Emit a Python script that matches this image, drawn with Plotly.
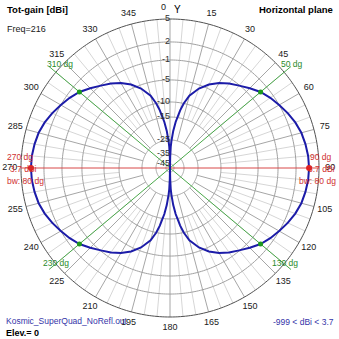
import numpy as np
import plotly.graph_objects as go

# Radiation pattern, horizontal plane (compass angle in degrees, total gain in dBi)
angles = [0, 1, 2, 3, 5, 7, 10, 12, 15, 20, 25, 30, 35, 40, 45, 50, 55, 60, 65, 70, 75, 80, 85,
          90, 95, 100, 105, 110, 115, 120, 125, 130, 135, 140, 145, 150, 155, 160, 165, 168, 170,
          173, 175, 177, 178, 179, 180, 181, 182, 183, 185, 187, 190, 192, 195, 200, 205, 210,
          215, 220, 225, 230, 235, 240, 245, 250, 255, 260, 265, 270, 275, 280, 285, 290, 295,
          300, 305, 310, 315, 320, 325, 330, 335, 340, 345, 348, 350, 353, 355, 357, 358, 359, 360]
gain_dbi = [-999, -38, -30, -26, -21, -17, -12.5, -10, -8, -5.8, -4.2, -3.0, -2.0, -1.1, -0.2,
            0.7, 1.4, 2.0, 2.5, 2.95, 3.3, 3.5, 3.65,
            3.7, 3.65, 3.5, 3.3, 2.95, 2.5, 2.0, 1.4, 0.7, -0.2, -1.1, -2.0, -3.0, -4.2, -5.8,
            -8, -10, -12.5, -17, -21, -26, -30, -38, -999, -38, -30, -26, -21, -17, -12.5, -10,
            -8, -5.8, -4.2, -3.0, -2.0, -1.1, -0.2, 0.7, 1.4, 2.0, 2.5, 2.95, 3.3, 3.5, 3.65,
            3.7, 3.65, 3.5, 3.3, 2.95, 2.5, 2.0, 1.4, 0.7, -0.2, -1.1, -2.0, -3.0, -4.2, -5.8,
            -8, -10, -12.5, -17, -21, -26, -30, -38, -999]

# Summary values
max_gain = 3.7
max_dirs = [90, 270]
bw_dirs = [50, 130, 230, 310]
beamwidth = 80

# Gain rings (dBi) and angular tick labels
ring_db = [5, 2, -1, -5, -10, -15, -25, -35, -45]
ring_frac = [1.0, 0.846, 0.725, 0.591, 0.443, 0.342, 0.188, 0.094, 0.027]
angle_ticks = list(range(0, 360, 15))

R_MAX = 1.1  # radial range leaves room for the compass labels outside the outer ring


def to_r(db):
    """Map dBi onto the plot's compressed radial scale (0 = centre, 1 = outer ring)."""
    xs = [-55] + ring_db[::-1]
    ys = [0.0] + ring_frac[::-1]
    return np.interp(np.asarray(db, dtype=float), xs, ys, left=0.0, right=1.0)


def polyline(segments):
    r, t = [], []
    for rs, ts in segments:
        r += list(rs) + [None]
        t += list(ts) + [None]
    return r, t


F = "Liberation Sans"
fig = go.Figure()
circ = np.linspace(0, 360, 361)

# minor spokes every 5 degrees
seg = [([to_r(-15), 1], [a, a]) for a in range(0, 360, 5) if a % 15]
r, t = polyline(seg)
fig.add_trace(go.Scatterpolar(r=r, theta=t, mode="lines",
                              line=dict(color="#d6d6d6", width=1), hoverinfo="skip"))
# major spokes every 15 degrees
seg = [([to_r(-25), 1], [a, a]) for a in angle_ticks if a not in (0, 90, 180, 270)]
seg.append(([1, 0, 1], [0, 0, 180]))
r, t = polyline(seg)
fig.add_trace(go.Scatterpolar(r=r, theta=t, mode="lines",
                              line=dict(color="#a6a6a6", width=1), hoverinfo="skip"))
# gain rings
seg = [([to_r(d)] * len(circ), circ) for d in ring_db[1:]]
r, t = polyline(seg)
fig.add_trace(go.Scatterpolar(r=r, theta=t, mode="lines",
                              line=dict(color="#a0a0a0", width=1), hoverinfo="skip"))
fig.add_trace(go.Scatterpolar(r=[1] * len(circ), theta=circ, mode="lines",
                              line=dict(color="#505050", width=1), hoverinfo="skip"))

# beamwidth (-3 dB) directions, running out to their labels
seg = [([0, 1.06], [a, a]) for a in bw_dirs]
r, t = polyline(seg)
fig.add_trace(go.Scatterpolar(r=r, theta=t, mode="lines",
                              line=dict(color="#4aa84a", width=1), hoverinfo="skip"))
# max-gain direction
fig.add_trace(go.Scatterpolar(r=[1, 0, 1], theta=[90, 0, 270], mode="lines",
                              line=dict(color="#d84848", width=1), hoverinfo="skip"))

# pattern
fig.add_trace(go.Scatterpolar(r=to_r(gain_dbi), theta=angles, mode="lines",
                              line=dict(color="#1c1ca8", width=2), hoverinfo="skip"))

# markers at max gain and at the -3 dB points
fig.add_trace(go.Scatterpolar(r=to_r([max_gain] * 2), theta=max_dirs, mode="markers",
                              marker=dict(color="#e02020", size=6), hoverinfo="skip"))
fig.add_trace(go.Scatterpolar(r=to_r([max_gain - 3] * 4), theta=bw_dirs, mode="markers",
                              marker=dict(color="#1e9a1e", size=5), hoverinfo="skip"))

# ring labels along the 0 degree axis
fig.add_trace(go.Scatterpolar(r=to_r(ring_db), theta=[0] * len(ring_db), mode="text",
                              text=[str(d) for d in ring_db], textposition="middle left",
                              textfont=dict(family=F, size=9, color="#303030"),
                              cliponaxis=False, hoverinfo="skip"))

# compass labels outside the outer ring (0 is placed next to the axis name)
lab = [a for a in angle_ticks if a != 0]
fig.add_trace(go.Scatterpolar(r=[1.075] * len(lab), theta=lab, mode="text",
                              text=[str(a) for a in lab], textposition="middle center",
                              textfont=dict(family=F, size=9, color="#202020"),
                              cliponaxis=False, hoverinfo="skip"))

# polar domain sized so the outer ring (r = 1) has a radius of 149 px about (170, 168)
half = 149 * R_MAX
cx, cy = 170, 168
fig.update_layout(
    width=339, height=339, showlegend=False,
    margin=dict(l=0, r=0, t=0, b=0),
    paper_bgcolor="white",
    polar=dict(
        domain=dict(x=[(cx - half) / 339, (cx + half) / 339],
                    y=[1 - (cy + half) / 339, 1 - (cy - half) / 339]),
        bgcolor="white",
        radialaxis=dict(range=[0, R_MAX], visible=False),
        angularaxis=dict(rotation=90, direction="clockwise", showgrid=False,
                         showline=False, ticks="", showticklabels=False),
    ),
)

RED = "#d03030"
notes = [
    dict(x=5, y=10, text="<b>Tot-gain [dBi]</b>", color="black", size=9.5, xa="left"),
    dict(x=5, y=29, text="Freq=216", color="#202020", size=9, xa="left"),
    dict(x=335, y=10, text="<b>Horizontal plane</b>", color="black", size=9.5, xa="right"),
    dict(x=163, y=7, text="0", color="#202020", size=9, xa="center"),
    dict(x=177, y=9, text="Y", color="black", size=10, xa="center"),
    dict(x=4, y=321, text="Kosmic_SuperQuad_NoRefl.out", color="#3434a8", size=8.5, xa="left"),
    dict(x=4, y=333, text="<b>Elev.= 0</b>", color="black", size=9, xa="left"),
    dict(x=336, y=322, text="-999 &lt; dBi &lt; 3.7", color="#3434a8", size=8.5, xa="right"),
    dict(x=5, y=157, text="270 dg", color=RED, size=8.5, xa="left"),
    dict(x=8, y=169, text=f"{max_gain} dBi", color=RED, size=8.5, xa="left"),
    dict(x=5, y=181, text=f"bw: {beamwidth} dg", color=RED, size=8.5, xa="left"),
    dict(x=308, y=157, text="90 dg", color=RED, size=8.5, xa="left"),
    dict(x=306, y=169, text=f"{max_gain} dBi", color=RED, size=8.5, xa="left"),
    dict(x=338, y=181, text=f"bw: {beamwidth} dg", color=RED, size=8.5, xa="right"),
    dict(x=60, y=64, text="310 dg", color="#2a8a2a", size=8.5, xa="center"),
    dict(x=292, y=64, text="50 dg", color="#2a8a2a", size=8.5, xa="center"),
    dict(x=56, y=263, text="230 dg", color="#2a8a2a", size=8.5, xa="center"),
    dict(x=285, y=263, text="130 dg", color="#2a8a2a", size=8.5, xa="center"),
]
for n in notes:
    fig.add_annotation(x=n["x"] / 339, y=1 - n["y"] / 339, xref="paper", yref="paper",
                       text=n["text"], showarrow=False, xanchor=n["xa"], yanchor="middle",
                       font=dict(family=F, size=n["size"], color=n["color"]))

fig.write_html("out.html")
